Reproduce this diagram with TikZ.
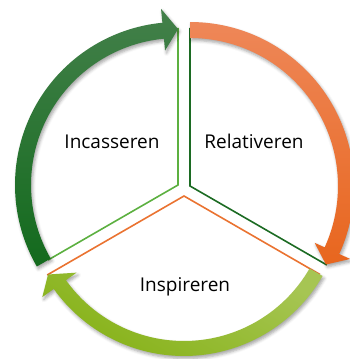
\documentclass[tikz,border=0pt]{standalone}
\usepackage{fontspec}
\setmainfont{Open Sans}
\usepackage{tikz}
\usetikzlibrary{calc,shadows.blur}
\definecolor{leafline}{HTML}{5CB040}
\definecolor{forestline}{HTML}{1C6B23}
\definecolor{orangeline}{HTML}{EA7331}
\definecolor{foresttop}{HTML}{43804A}
\definecolor{forestbot}{HTML}{136A1D}
\definecolor{orangetop}{HTML}{EE8758}
\definecolor{orangebot}{HTML}{E8661E}
\definecolor{leaftop}{HTML}{A6C553}
\definecolor{leafbot}{HTML}{86B217}
\tikzstyle{band} = [blur shadow={shadow xshift=1.5pt, shadow yshift=-2.5pt, shadow blur radius=3pt, shadow opacity=35}]
\tikzstyle{edge} = [line width=1.6pt]
\tikzstyle{phase} = [font=\fontsize{19}{22}\selectfont, text=black]

\begin{document}
\begin{tikzpicture}[x=1pt,y=1pt]
		\useasboundingbox (0,0) rectangle (349,359);
		\coordinate (inc) at (178,174);
		\coordinate (rel) at (190,173);
		\coordinate (insp) at (184,163);
		
		% sector edges
		\draw [edge, leafline] ($(inc)+(90:157)$) -- (inc) -- ($(inc)+(210:150)$);
		\draw [edge, forestline] ($(rel)+(90:158)$) -- (rel) -- ($(rel)+(-30:158)$);
		\draw [edge, orangeline] ($(insp)+(210:158)$) -- (insp) -- ($(insp)+(-30:157)$);
		
		% curved arrows, all running clockwise
		\begin{scope}[shift={(inc)}]
		\path [band, top color=foresttop, bottom color=forestbot]
			(210:163) arc[start angle=210, end angle=95.5, radius=163] -- (95.5:177) -- (90:156)
			-- (95.5:135) -- (95.5:147) arc[start angle=95.5, end angle=210, radius=147] -- cycle;
		\end{scope}
		\begin{scope}[shift={(rel)}]
		\path [band, top color=orangetop, bottom color=orangebot]
			(90:164) arc[start angle=90, end angle=-24.5, radius=164] -- (-24.5:176) -- (-30:157)
			-- (-24.5:137) -- (-24.5:148) arc[start angle=-24.5, end angle=90, radius=148] -- cycle;
		\end{scope}
		\begin{scope}[shift={(insp)}]
		\path [band, top color=leaftop, bottom color=leafbot, shading angle=-30]
			(-30:160) arc[start angle=-30, end angle=-144.5, radius=160] -- (-144.5:174) -- (210:157)
			-- (-144.5:132) -- (-144.5:145) arc[start angle=-144.5, end angle=-30, radius=145] -- cycle;
		\end{scope}
		
		\node [phase] (incasseren) at (112,217) {Incasseren};
		\node [phase] (relativeren) at (254,218) {Relativeren};
		\node [phase] (inspireren) at (185,72) {Inspireren};
\end{tikzpicture}
\end{document}
